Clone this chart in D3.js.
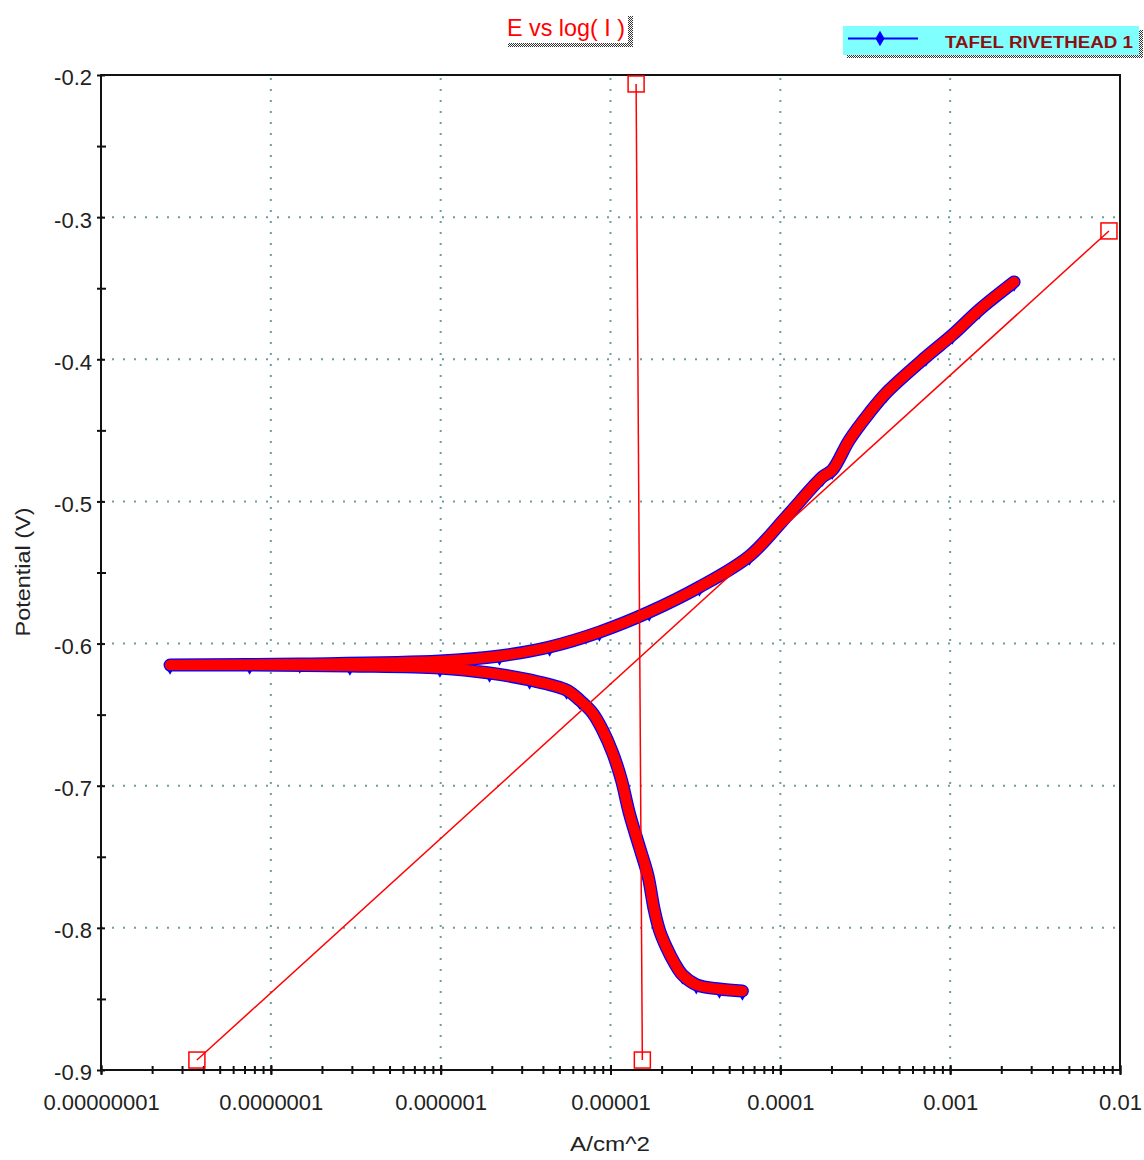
<!DOCTYPE html>
<html><head><meta charset="utf-8">
<script src="https://cdn.jsdelivr.net/npm/d3@7"></script>
<style>body{margin:0;background:#fff} svg{display:block} text{font-family:Arial,"Liberation Sans",sans-serif}</style>
</head><body><svg id="c" width="1144" height="1160"></svg>
<script>
// ---- data ----
const xTickValues = [1e-8, 1e-7, 1e-6, 1e-5, 1e-4, 1e-3, 1e-2];
const xTickLabels = ["0.00000001", "0.0000001", "0.000001", "0.00001", "0.0001", "0.001", "0.01"];
const yTickValues = [-0.2, -0.3, -0.4, -0.5, -0.6, -0.7, -0.8, -0.9];
const yTickLabels = ["-0.2", "-0.3", "-0.4", "-0.5", "-0.6", "-0.7", "-0.8", "-0.9"];
const yMinorTicks = [-0.25, -0.35, -0.45, -0.55, -0.65, -0.75, -0.85];
const seriesName = "TAFEL RIVETHEAD 1";
const titleText = "E vs log( I )";
// measured curve (A/cm^2, V): cathodic end -> Ecorr -> anodic end
const current = [5.98e-5, 4.38e-5, 3.2e-5, 2.65e-5, 2.38e-5, 2.13e-5, 1.94e-5, 1.81e-5, 1.66e-5, 1.48e-5, 1.29e-5, 1.16e-5, 1.03e-5, 8.98e-6, 7.84e-6, 6.57e-6, 5.51e-6, 3.34e-6, 1.94e-6, 9.9e-7, 2.92e-7, 7.5e-8, 2.55e-8,
  1.48e-7, 9.9e-7, 2.22e-6, 4.38e-6, 8.6e-6, 1.69e-5, 3.34e-5, 6.58e-5, 1.08e-4, 1.77e-4, 2.02e-4, 2.55e-4, 3.34e-4, 4.2e-4, 7.2e-4, 1.03e-3, 1.48e-3, 2.38e-3];
const potential = [-0.8444, -0.843, -0.840, -0.833, -0.8247, -0.8135, -0.8015, -0.7874, -0.7630, -0.7431, -0.7192, -0.696, -0.677, -0.6608, -0.6488, -0.6397, -0.6327, -0.6256, -0.6207, -0.6172, -0.6158, -0.6151, -0.6151,
  -0.6144, -0.6123, -0.6087, -0.6024, -0.5919, -0.5778, -0.5602, -0.5384, -0.511, -0.4828, -0.478, -0.4568, -0.4378, -0.4237, -0.3984, -0.3829, -0.3653, -0.3456];
// Tafel lines
const anodicTafelI = [3.67e-8, 8.61e-3];
const anodicTafelE = [-0.893, -0.3097];
const cathodicTafelI = [1.415e-5, 1.54e-5];
const cathodicTafelE = [-0.2063, -0.893];

// ---- chart ----
const svg = d3.select("#c");
const L = 101, R = 1120, T = 75, B = 1070;
const x = d3.scaleLog().domain([1e-8, 1e-2]).range([L, R]);
const y = d3.scaleLinear().domain([-0.9, -0.2]).range([B, T]);

const defs = svg.append("defs");
const pat = defs.append("pattern").attr("id", "dith").attr("width", 2).attr("height", 2).attr("patternUnits", "userSpaceOnUse");
pat.append("rect").attr("width", 2).attr("height", 2).attr("fill", "#fff");
pat.append("rect").attr("width", 1).attr("height", 1).attr("fill", "#333");
pat.append("rect").attr("x", 1).attr("y", 1).attr("width", 1).attr("height", 1).attr("fill", "#333");
defs.append("clipPath").attr("id", "plot").append("rect").attr("x", L).attr("y", T).attr("width", R - L).attr("height", B - T);

// grid
const gridColor = "#6e9d9d";
svg.append("g").selectAll("line").data(xTickValues.slice(1, -1)).join("line")
  .attr("x1", d => x(d)).attr("x2", d => x(d)).attr("y1", B).attr("y2", T)
  .attr("stroke", gridColor).attr("stroke-width", 2).attr("stroke-dasharray", "2 9");
svg.append("g").selectAll("line").data(yTickValues.slice(1, -1)).join("line")
  .attr("y1", d => y(d)).attr("y2", d => y(d)).attr("x1", L).attr("x2", R)
  .attr("stroke", gridColor).attr("stroke-width", 2).attr("stroke-dasharray", "2 9");

// frame
svg.append("rect").attr("x", L).attr("y", T).attr("width", R - L).attr("height", B - T)
  .attr("fill", "none").attr("stroke", "#111").attr("stroke-width", 2);

// x axis minor + major ticks
const gxMinor = svg.append("g").attr("transform", `translate(0,${B})`)
  .call(d3.axisBottom(x).tickValues(x.ticks()).tickFormat("").tickSize(4));
gxMinor.select(".domain").remove();
gxMinor.selectAll("line").attr("y1", -4).attr("y2", 4).attr("stroke", "#111").attr("stroke-width", 2);
const gx = svg.append("g").attr("transform", `translate(0,${B})`)
  .call(d3.axisBottom(x).tickValues(xTickValues).tickFormat((d, i) => xTickLabels[i]).tickSize(5).tickPadding(19));
gx.select(".domain").remove();
gx.selectAll("line").attr("y1", -5).attr("y2", 5).attr("stroke", "#111").attr("stroke-width", 2);
gx.selectAll("text").attr("font-size", 22).attr("fill", "#222").attr("font-family", "Arial, 'Liberation Sans', sans-serif");

// y axis
const gyMinor = svg.append("g").attr("transform", `translate(${L},0)`)
  .call(d3.axisLeft(y).tickValues(yMinorTicks).tickFormat("").tickSize(4));
gyMinor.select(".domain").remove();
gyMinor.selectAll("line").attr("x1", -4).attr("x2", 5).attr("stroke", "#111").attr("stroke-width", 2);
const gy = svg.append("g").attr("transform", `translate(${L},0)`)
  .call(d3.axisLeft(y).tickValues(yTickValues).tickFormat((d, i) => yTickLabels[i]).tickSize(4).tickPadding(5));
gy.select(".domain").remove();
gy.selectAll("line").attr("x1", -4).attr("x2", 4).attr("stroke", "#111").attr("stroke-width", 2);
gy.selectAll("text").attr("font-size", 22).attr("fill", "#222").attr("dy", "0.45em").attr("font-family", "Arial, 'Liberation Sans', sans-serif");

// axis titles
svg.append("text").attr("transform", "translate(30,572) rotate(-90)").attr("text-anchor", "middle")
  .attr("font-size", 21).attr("fill", "#222").attr("textLength", 129).attr("lengthAdjust", "spacingAndGlyphs").text("Potential (V)");
svg.append("text").attr("x", 610).attr("y", 1151).attr("text-anchor", "middle")
  .attr("font-size", 21).attr("fill", "#222").attr("textLength", 80).attr("lengthAdjust", "spacingAndGlyphs").text("A/cm^2");

// data
const pts = current.map((c, i) => [c, potential[i]]);
const line = d3.line().x(d => x(d[0])).y(d => y(d[1]));
const smooth = d3.line().x(d => x(d[0])).y(d => y(d[1])).curve(d3.curveCatmullRom.alpha(0.5));
const plot = svg.append("g").attr("clip-path", "url(#plot)");
plot.append("path").attr("d", smooth(pts)).attr("fill", "none").attr("stroke", "#0000ff").attr("stroke-width", 13)
  .attr("stroke-linejoin", "round").attr("stroke-linecap", "round");
plot.selectAll(".mk").data(pts).join("path").attr("class", "mk")
  .attr("transform", d => `translate(${x(d[0])},${y(d[1]) + 2})`)
  .attr("d", d3.symbol(d3.symbolDiamond, 70)).attr("fill", "#0000ff");
plot.append("path").attr("d", smooth(pts)).attr("fill", "none").attr("stroke", "#ff0000").attr("stroke-width", 10.5)
  .attr("stroke-linejoin", "round").attr("stroke-linecap", "round");

// Tafel lines
function tafel(I, E) {
  const p = I.map((c, i) => [c, E[i]]);
  plot.append("path").attr("d", line(p)).attr("fill", "none").attr("stroke", "#ff0000").attr("stroke-width", 1.5);
  svg.append("g").selectAll("rect").data(p).join("rect")
    .attr("x", d => x(d[0]) - 8).attr("y", d => y(d[1]) - 8).attr("width", 16).attr("height", 16)
    .attr("fill", "none").attr("stroke", "#ff0000").attr("stroke-width", 1.5);
}
tafel(anodicTafelI, anodicTafelE);
tafel(cathodicTafelI, cathodicTafelE);

// title box
svg.append("rect").attr("x", 508).attr("y", 16).attr("width", 125).attr("height", 31).attr("fill", "url(#dith)");
svg.append("rect").attr("x", 503).attr("y", 12).attr("width", 125).attr("height", 31).attr("fill", "#fff");
svg.append("text").attr("x", 566).attr("y", 36).attr("text-anchor", "middle").attr("font-size", 24)
  .attr("fill", "#ff0000").attr("textLength", 118).attr("lengthAdjust", "spacingAndGlyphs").text(titleText);

// legend
svg.append("rect").attr("x", 847).attr("y", 30).attr("width", 296).attr("height", 28).attr("fill", "url(#dith)");
svg.append("rect").attr("x", 843).attr("y", 26).attr("width", 296).attr("height", 29).attr("fill", "#80ffff");
svg.append("line").attr("x1", 848).attr("x2", 918).attr("y1", 38.5).attr("y2", 38.5).attr("stroke", "#0000ff").attr("stroke-width", 2);
svg.append("path").attr("transform", "translate(880,38.5)").attr("d", d3.symbol(d3.symbolDiamond, 70)).attr("fill", "#0000ff");
svg.append("text").attr("x", 945).attr("y", 47.5).attr("font-size", 16).attr("font-weight", "bold").attr("fill", "#8b1010")
  .attr("textLength", 188).attr("lengthAdjust", "spacingAndGlyphs").text(seriesName);
</script></body></html>
